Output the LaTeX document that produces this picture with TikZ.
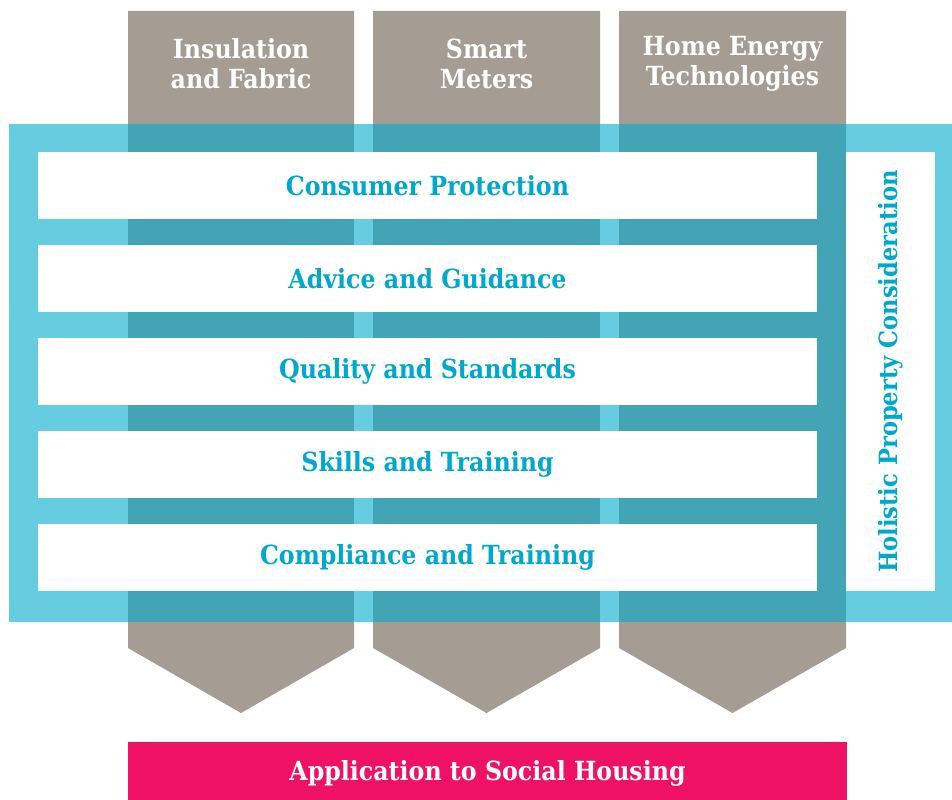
\documentclass[tikz,border=0pt]{standalone}
\usepackage{fontspec}
\setmainfont{DejaVu Serif Condensed}
\usetikzlibrary{positioning}

\definecolor{pillargray}{HTML}{A59C93}
\definecolor{frameblue}{HTML}{66CCE0}
\definecolor{overlapteal}{HTML}{43A4B5}
\definecolor{labelblue}{HTML}{00A8CB}
\definecolor{housingpink}{HTML}{EE1164}

\begin{document}
\begin{tikzpicture}[x=0.02cm, y=-0.02cm,
    pillar/.style={fill=pillargray},
    pillartext/.style={text=white, font=\bfseries\fontsize{15}{17}\selectfont, align=center},
    themebar/.style={fill=white, minimum width=15.58cm, minimum height=1.34cm, inner sep=0pt,
      text=labelblue, font=\bfseries\fontsize{15}{17}\selectfont}]
  \useasboundingbox (0,0) rectangle (952,800);

  % Pillars with pointed bottoms
  \foreach \xl/\xr in {128/354, 373/600, 619/846}{
    \fill[pillar] (\xl,11) -- (\xr,11) -- (\xr,648) -- ({(\xl+\xr)/2},713) -- (\xl,648) -- cycle;
  }

  % Blue frame and its overlap with the pillars
  \fill[frameblue] (9,124) rectangle (952,622);
  \foreach \xl/\xr in {128/354, 373/600, 619/846}{
    \fill[overlapteal] (\xl,124) rectangle (\xr,622);
  }

  % Pillar headings
  \node[pillartext] (fabric) at (241,64) {Insulation\\and Fabric};
  \node[pillartext] (meters) at (486.5,64) {Smart\\Meters};
  \node[pillartext] (tech) at (732.5,64) {Home Energy\\Technologies};

  % Cross-cutting themes
  \node[themebar] (protect) at (427.5,185.5) {Consumer Protection};
  \node[themebar] (advice) at (427.5,278.5) {Advice and Guidance};
  \node[themebar] (quality) at (427.5,371.5) {Quality and Standards};
  \node[themebar] (skills) at (427.5,464.5) {Skills and Training};
  \node[themebar] (comply) at (427.5,557.5) {Compliance and Training};

  % Holistic panel on the right
  \node[fill=white, minimum width=1.78cm, minimum height=8.78cm, inner sep=0pt] (holpanel) at (890.5,371.5) {};
  \node[rotate=90, text=labelblue, font=\bfseries\fontsize{14.3}{16}\selectfont] (holistic) at (holpanel) {Holistic Property Consideration};

  % Social housing bar
  \node[fill=housingpink, minimum width=14.38cm, minimum height=1.24cm, inner sep=0pt,
    text=white, font=\bfseries\fontsize{15}{17}\selectfont] (housing) at (487.5,773) {Application to Social Housing};
\end{tikzpicture}
\end{document}
